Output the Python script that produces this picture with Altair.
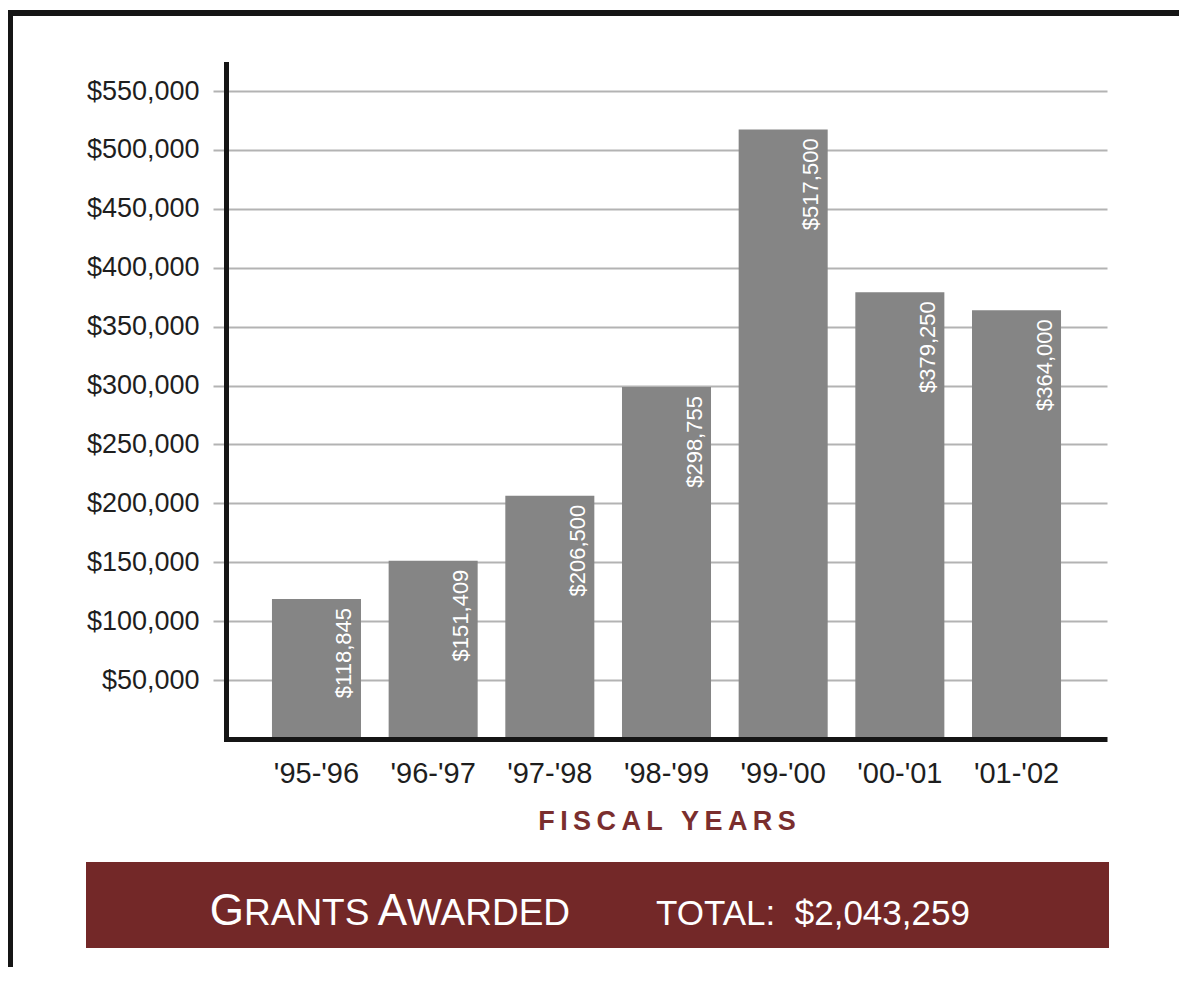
import altair as alt
import pandas as pd

# ---- data ----
years = ["'95-'96", "'96-'97", "'97-'98", "'98-'99", "'99-'00", "'00-'01", "'01-'02"]
grants = [118845, 151409, 206500, 298755, 517500, 379250, 364000]
grant_labels = ["$118,845", "$151,409", "$206,500", "$298,755", "$517,500", "$379,250", "$364,000"]
y_ticks = [50000, 100000, 150000, 200000, 250000, 300000, 350000, 400000, 450000, 500000, 550000]
x_title = "FISCAL YEARS"
banner_title = "GRANTS AWARDED"
total_text = "TOTAL:\u00a0\u00a0$2,043,259"

df = pd.DataFrame({"year": years, "grant": grants, "label": grant_labels})

W, H = 881, 675
PAD = {"left": 218, "top": 56, "right": 72, "bottom": 228}

FONT = "Liberation Sans, Arial, sans-serif"
RED = "#732828"

x_enc = alt.X(
    "year:N", sort=years,
    scale=alt.Scale(paddingInner=0.237, paddingOuter=0.394),
    axis=alt.Axis(title=None, labelAngle=0, labelFont=FONT, labelFontSize=29,
                  labelColor="#1e1e1e", labelPadding=20, ticks=False,
                  domainColor="#151515", domainWidth=5, zindex=1),
)
y_enc = alt.Y(
    "grant:Q",
    scale=alt.Scale(domain=[0, 573000], nice=False, zero=True),
    axis=alt.Axis(title=None, values=y_ticks,
                  labelExpr="'$' + format(datum.value, ',')",
                  labelFont=FONT, labelFontSize=27, labelColor="#1e1e1e",
                  labelPadding=14, tickSize=13, tickColor="#b3b3b3", tickWidth=2,
                  grid=True, gridColor="#b3b3b3", gridWidth=2,
                  domainColor="#151515", domainWidth=5, domainCap="square"),
)

base = alt.Chart(df)
bars = base.mark_bar(color="#858585").encode(x=x_enc, y=y_enc)
bar_text = base.mark_text(angle=270, align="right", baseline="middle", dx=-9, dy=28,
                          font=FONT, fontSize=22, color="white").encode(
    x=alt.X("year:N", sort=years), y="grant:Q", text="label:N")

one = alt.Data(values=[{}])

frame_top = alt.Chart(one).mark_rule(color="#151515", strokeWidth=6).encode(
    x=alt.value(-220), x2=alt.value(W + PAD["right"]), y=alt.value(-51))
frame_left = alt.Chart(one).mark_rule(color="#151515", strokeWidth=6).encode(
    x=alt.value(-216), y=alt.value(-54), y2=alt.value(H + PAD["bottom"]))

fiscal = alt.Chart(one).mark_text(font=FONT, fontSize=27, fontWeight="bold", color="#7a2e2e",
                                   align="center", baseline="middle").encode(
    x=alt.value(441), y=alt.value(758),
    text=alt.value(x_title.replace("", "\u2009").strip("\u2009")))

banner = alt.Chart(one).mark_rect(color=RED).encode(
    x=alt.value(-140), x2=alt.value(883), y=alt.value(798), y2=alt.value(884))

words = banner_title.split(" ")  # ["GRANTS", "AWARDED"]


def banner_text(txt, xpos, size, align):
    return alt.Chart(one).mark_text(font=FONT, fontSize=size, color="white",
                                    align=align, baseline="alphabetic").encode(
        x=alt.value(xpos), y=alt.value(861), text=alt.value(txt))


b1 = banner_text(words[0][0], 18, 44, "right")
b2 = banner_text(words[0][1:], 18, 37, "left")
b3 = banner_text(words[1][0], 181, 44, "right")
b4 = banner_text(words[1][1:], 181, 37, "left")
b5 = banner_text(total_text, 430, 35, "left")

chart = alt.layer(bars, bar_text, frame_top, frame_left, fiscal, banner, b1, b2, b3, b4, b5).properties(
    width=W, height=H,
    autosize=alt.AutoSizeParams(type="none"),
    padding=PAD,
    background="white",
).configure_view(stroke=None)

chart.save("out.html", embed_options={"renderer": "svg", "actions": False})
